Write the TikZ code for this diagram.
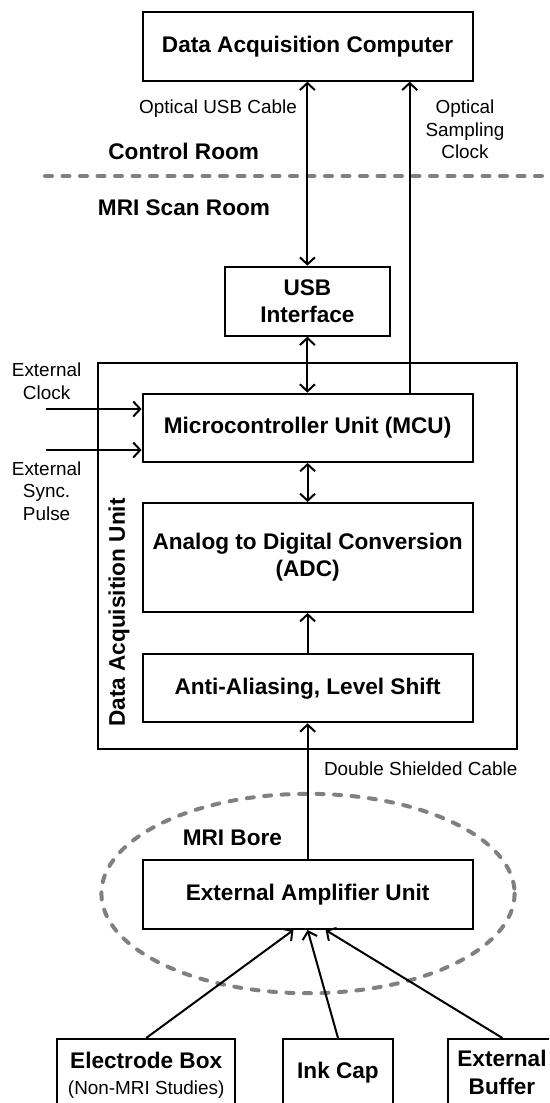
\documentclass[tikz,border=0pt]{standalone}
\usepackage{fontspec}
\setmainfont{Liberation Sans}
\usetikzlibrary{arrows.meta,calc}

\newcommand{\bigfont}{\fontsize{22.6}{27.2}\selectfont\bfseries}
\newcommand{\smallfont}{\fontsize{18.9}{22.6}\selectfont}

\tikzset{
  blk/.style={draw, line width=2pt, rectangle, inner sep=0pt, align=center, font=\bigfont},
  lbl/.style={inner sep=0pt, align=center, font=\smallfont},
  ttl/.style={inner sep=0pt, align=center, font=\bigfont},
  wire/.style={line width=2pt, -{Straight Barb[length=7pt,width=15pt,line width=2pt]}},
  biwire/.style={line width=2pt, {Straight Barb[length=7pt,width=15pt,line width=2pt]}-{Straight Barb[length=7pt,width=15pt,line width=2pt]}},
  border/.style={draw=black!50, line width=4pt, line cap=round, dash pattern=on 7pt off 10.5pt},
}

\begin{document}
\begin{tikzpicture}[x=1pt, y=-1pt]
  \useasboundingbox (0,0) rectangle (549,1103);
  \clip (0,0) rectangle (549,1103);

  % room separation and bore outline
  \coordinate (sepL) at (45,176);
  \coordinate (sepR) at (560,176);
  \draw[border] (sepL) -- (sepR);
  \draw[border] (308,893.5) ellipse [x radius=206.6, y radius=99.7];

  % main blocks
  \node[blk, minimum width=330pt, minimum height=69pt] (comp) at (307.6,46.2) {Data Acquisition Computer};
  \node[blk, minimum width=165.3pt, minimum height=69pt] (usb) at (307.4,301.2) {USB\\Interface};
  \node[draw, line width=2pt, rectangle, inner sep=0pt, minimum width=418.5pt, minimum height=386.3pt] (dau) at (307.25,555.85) {};
  \node[blk, minimum width=330pt, minimum height=68.3pt] (mcu) at (307.6,427.8) {Microcontroller Unit (MCU)};
  \node[blk, minimum width=330pt, minimum height=109pt] (adc) at (307.6,557.5) {Analog to Digital Conversion\\(ADC)};
  \node[blk, minimum width=330pt, minimum height=68.3pt] (aa) at (307.6,688.2) {Anti-Aliasing, Level Shift};
  \node[blk, minimum width=330pt, minimum height=69pt] (amp) at (307.6,894.5) {External Amplifier Unit};

  % sensor boxes along the bottom
  \node[draw, line width=2pt, rectangle, inner sep=0pt, anchor=north, minimum width=178.3pt, minimum height=110pt] (elec) at (146.2,1038) {};
  \node[draw, line width=2pt, rectangle, inner sep=0pt, anchor=north, minimum width=110pt, minimum height=110pt] (ink) at (338,1038) {};
  \node[draw, line width=2pt, rectangle, inner sep=0pt, anchor=north, minimum width=108.8pt, minimum height=110pt] (buf) at (502.4,1038) {};
  \node[ttl] (elecT) at (146.2,1060.5) {Electrode Box};
  \node[lbl] (elecS) at (146.2,1090) {(Non-MRI Studies)};
  \node[ttl] (inkT) at (338,1073) {Ink Cap};
  \node[ttl] (bufT) at (502,1072.5) {External\\Buffer};

  % texts
  \node[ttl] (ctrl) at (183.7,151) {Control Room};
  \node[ttl] (scan) at (184,208) {MRI Scan Room};
  \node[lbl, anchor=east] (usbcab) at (297,109) {Optical USB Cable};
  \node[lbl] (clk) at (465,129.5) {Optical\\Sampling\\Clock};
  \node[lbl] (extclk) at (46.6,381) {External\\Clock};
  \node[lbl] (extsync) at (46.6,491) {External\\Sync.\\Pulse};
  \node[ttl, rotate=90] (dauT) at (119,612.5) {Data Acquisition Unit};
  \node[lbl] (dsc) at (420.7,769) {Double Shielded Cable};
  \node[ttl] (bore) at (232.4,838) {MRI Bore};

  % connectors
  \draw[biwire] (usb.north) -- (usb.north |- comp.south);
  \draw[biwire] (usb.south) -- (usb.south |- mcu.north);
  \coordinate (clkup) at (409.7,0);
  \draw[wire] (clkup |- mcu.north) -- (clkup |- comp.south);
  \draw[biwire] (mcu.south) -- (adc.north);
  \draw[wire] (aa.north) -- (adc.south);
  \draw[wire] (amp.north) -- (aa.south);

  \coordinate (clkin) at (45.5,409);
  \coordinate (syncin) at (45.5,450);
  \draw[wire] (clkin) -- (clkin -| mcu.west);
  \draw[wire] (syncin) -- (syncin -| mcu.west);

  \draw[wire] (elec.north) -- ($(amp.south)+(-14.2,0)$);
  \draw[wire] (ink.north) -- (amp.south);
  \draw[wire] (buf.north) -- ($(amp.south)+(18,0)$);
\end{tikzpicture}
\end{document}
